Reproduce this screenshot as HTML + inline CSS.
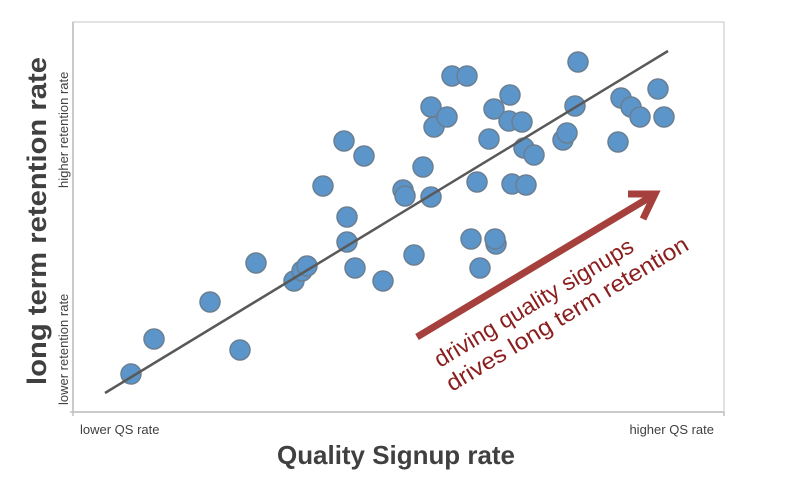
<!DOCTYPE html>
<html><head><style>body{margin:0;background:#fff}svg{display:block}</style></head><body>
<svg width="800" height="485" xmlns="http://www.w3.org/2000/svg" font-family="Liberation Sans, sans-serif">
<rect x="73" y="22" width="651" height="390" fill="none" stroke="#d9d9d9" stroke-width="1.5"/>
<line x1="73" y1="22" x2="73" y2="416" stroke="#bfbfbf" stroke-width="1.5"/>
<line x1="70" y1="412" x2="724" y2="412" stroke="#bfbfbf" stroke-width="1.5"/>
<line x1="724" y1="412" x2="724" y2="416" stroke="#bfbfbf" stroke-width="1.5"/>
<g fill="#5b95c9" stroke="#6b7f93" stroke-width="1.5">
<circle cx="131" cy="374" r="10"/><circle cx="154" cy="339" r="10"/><circle cx="210" cy="302" r="10"/><circle cx="240" cy="350" r="10"/><circle cx="256" cy="263" r="10"/><circle cx="294" cy="281" r="10"/><circle cx="302" cy="271" r="10"/><circle cx="307" cy="266" r="10"/><circle cx="323" cy="186" r="10"/><circle cx="344" cy="141" r="10"/><circle cx="364" cy="156" r="10"/><circle cx="347" cy="217" r="10"/><circle cx="347" cy="242" r="10"/><circle cx="355" cy="268" r="10"/><circle cx="383" cy="281" r="10"/><circle cx="403" cy="190" r="10"/><circle cx="405" cy="196" r="10"/><circle cx="414" cy="255" r="10"/><circle cx="423" cy="167" r="10"/><circle cx="431" cy="197" r="10"/><circle cx="431" cy="107" r="10"/><circle cx="434" cy="127" r="10"/><circle cx="447" cy="117" r="10"/><circle cx="452" cy="76" r="10"/><circle cx="467" cy="76" r="10"/><circle cx="477" cy="182" r="10"/><circle cx="471" cy="239" r="10"/><circle cx="480" cy="268" r="10"/><circle cx="496" cy="244" r="10"/><circle cx="495" cy="239" r="10"/><circle cx="489" cy="139" r="10"/><circle cx="494" cy="109" r="10"/><circle cx="510" cy="95" r="10"/><circle cx="509" cy="121" r="10"/><circle cx="522" cy="122" r="10"/><circle cx="524" cy="148" r="10"/><circle cx="534" cy="155" r="10"/><circle cx="512" cy="184" r="10"/><circle cx="526" cy="185" r="10"/><circle cx="563" cy="140" r="10"/><circle cx="567" cy="133" r="10"/><circle cx="575" cy="106" r="10"/><circle cx="578" cy="62" r="10"/><circle cx="618" cy="142" r="10"/><circle cx="621" cy="98" r="10"/><circle cx="631" cy="107" r="10"/><circle cx="640" cy="117" r="10"/><circle cx="658" cy="89" r="10"/><circle cx="664" cy="117" r="10"/>
</g>
<line x1="105" y1="393" x2="668" y2="51" stroke="#595959" stroke-width="2.5"/>
<g stroke="#a5403c" stroke-width="7" fill="none" stroke-linecap="butt">
<line x1="417" y1="337" x2="652" y2="196"/>
<polyline points="628,194 655,194 643,219" stroke-linejoin="miter"/>
</g>
<g fill="#8b1e1e" font-size="23" font-family="Liberation Sans, DejaVu Sans, sans-serif">
<text transform="translate(440,368) rotate(-31)" textLength="228" lengthAdjust="spacingAndGlyphs">driving quality signups</text>
<text transform="translate(452,392) rotate(-31)" textLength="278" lengthAdjust="spacingAndGlyphs">drives long term retention</text>
</g>
<g fill="#404040" font-size="13">
<text x="80" y="434">lower QS rate</text>
<text x="714" y="434" text-anchor="end">higher QS rate</text>
<text transform="translate(68,405) rotate(-90)">lower retention rate</text>
<text transform="translate(68,188) rotate(-90)">higher retention rate</text>
</g>
<text x="277" y="464" font-size="26" font-weight="bold" fill="#404040" textLength="238" lengthAdjust="spacingAndGlyphs">Quality Signup rate</text>
<text transform="translate(46,385) rotate(-90)" font-size="27" font-weight="bold" fill="#404040" textLength="328" lengthAdjust="spacingAndGlyphs">long term retention rate</text>
</svg>
</body></html>
